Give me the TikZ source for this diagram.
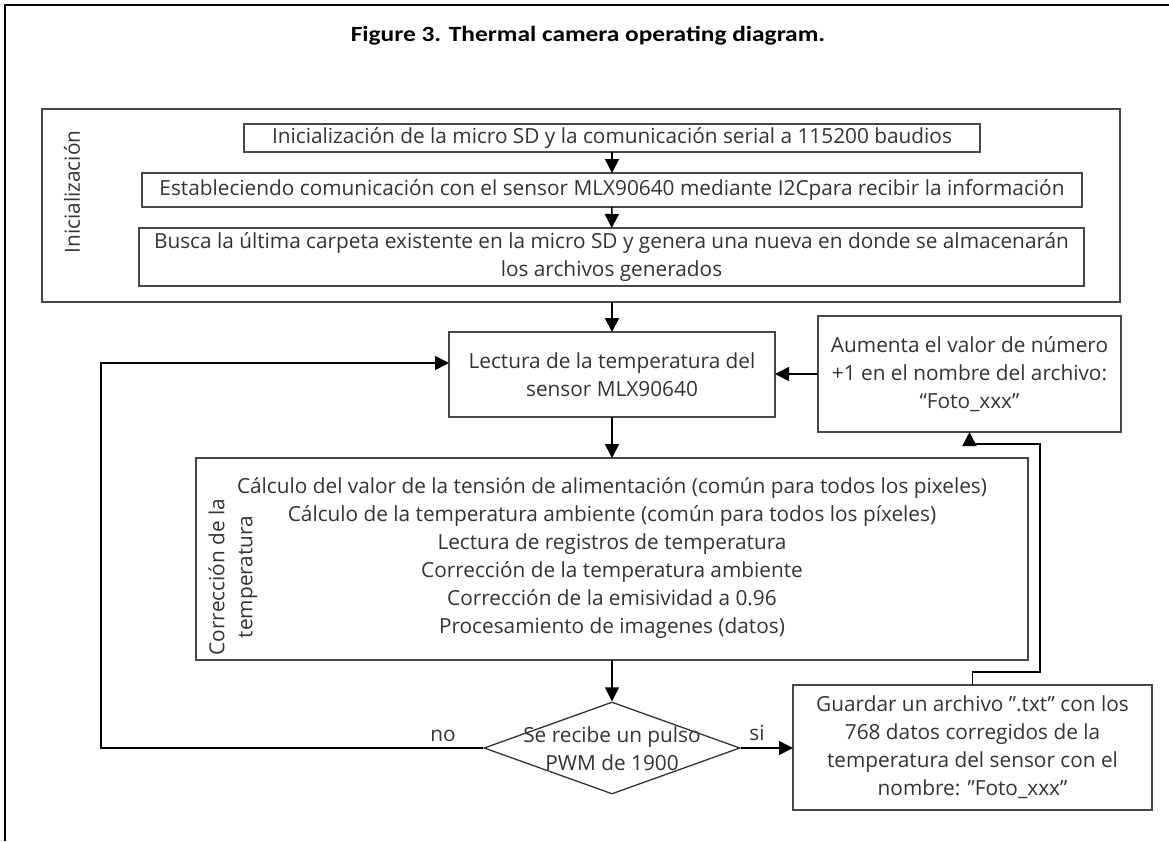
\documentclass[tikz,border=0pt]{standalone}
\usepackage{fontspec}
\setmainfont{Open Sans}
\newfontfamily\titlefont{Carlito}[FakeStretch=1.17]
\usetikzlibrary{arrows.meta,shapes.geometric}
\tikzset{
  box/.style={draw=black!72, line width=1.4pt, inner sep=0pt, outer sep=0pt, align=center, text=black!80, font=\fontsize{20.8}{28}\selectfont},
  lbl/.style={inner sep=0pt, align=center, text=black!80, font=\fontsize{20.8}{28}\selectfont},
  arr/.style={draw=black, line width=1.6pt, -{Triangle[length=14pt,width=14pt]}},
  ln/.style={draw=black, line width=1.6pt}
}
\begin{document}
\begin{tikzpicture}[x=1pt,y=-1pt]
\useasboundingbox (0,0) rectangle (1169,841);
% outer frame
\draw[line width=1.2pt] (5,841) -- (5,5) -- (1169,5);
\node[font=\titlefont\bfseries\fontsize{21.7}{24}\selectfont, inner sep=0pt] (title) at (588,36) {Figure 3. Thermal camera operating diagram.};
% initialization group
\node[box, minimum width=1078pt, minimum height=193pt] (init) at (581,205.5) {};
\node[lbl, rotate=90] (initlbl) at (72,192) {Inicialización};
\node[box, minimum width=736pt, minimum height=28pt] (b1) at (612,138) {Inicialización de la micro SD y la comunicación serial a 115200 baudios};
\node[box, minimum width=940pt, minimum height=34pt] (b2) at (612,190) {Estableciendo comunicación con el sensor MLX90640 mediante I2Cpara recibir la información};
\node[box, minimum width=945pt, minimum height=58pt] (b3) at (611.5,257) {Busca la última carpeta existente en la micro SD y genera una nueva en donde se almacenarán\\los archivos generados};
% main loop
\node[box, minimum width=326pt, minimum height=85pt] (lect) at (612,374.5) {Lectura de la temperatura del\\sensor MLX90640};
\node[box, minimum width=303pt, minimum height=116pt] (aum) at (969.5,374) {Aumenta el valor de número\\+1 en el nombre del archivo:\\“Foto\_xxx”};
\node[box, minimum width=832pt, minimum height=202pt] (corr) at (612,559) {};
\node[lbl] (corrtxt) at (612,558) {Cálculo del valor de la tensión de alimentación (común para todos los pixeles)\\Cálculo de la temperatura ambiente (común para todos los píxeles)\\Lectura de registros de temperatura\\Corrección de la temperatura ambiente\\Corrección de la emisividad a 0.96\\Procesamiento de imagenes (datos)};
\node[lbl, rotate=90] (corrlbl) at (233,577) {Corrección de la\\temperatura};
\node[draw=black!80, line width=1.3pt, diamond, minimum width=256pt, minimum height=92pt, inner sep=0pt] (dia) at (612,748) {};
\node[lbl] (diatxt) at (612,749) {Se recibe un pulso\\PWM de 1900};
\node[box, minimum width=359pt, minimum height=125pt] (guar) at (972.5,747.5) {Guardar un archivo \char34.txt\char34{} con los\\768 datos corregidos de la\\temperatura del sensor con el\\nombre: \char34 Foto\_xxx\char34};
% connectors
\draw[arr] (b1) -- (b2);
\draw[arr] (b2) -- (b3);
\draw[arr] (init.south -| lect.north) -- (lect.north);
\draw[arr] (lect) -- (corr.north -| lect);
\draw[arr] (corr.south -| dia.north) -- (dia.north);
\draw[arr] (dia.east) -- (guar.west |- dia.east);
\draw[arr] (aum.west) -- (lect.east |- aum.west);
\coordinate (loopb) at (101,748);
\coordinate (loopt) at (101,363);
\draw[arr] (dia.west) -- (loopb) -- (loopt) -- (lect.west |- loopt);
\coordinate (r1) at (1040,672);
\coordinate (r2) at (1040,444);
\draw[arr] (guar.north) -- (guar.north |- r1) -- (r1) -- (r2) -- (aum.south |- r2) -- (aum.south);
\node[lbl] (no) at (443,736) {no};
\node[lbl] (si) at (757,733) {si};
\end{tikzpicture}
\end{document}
